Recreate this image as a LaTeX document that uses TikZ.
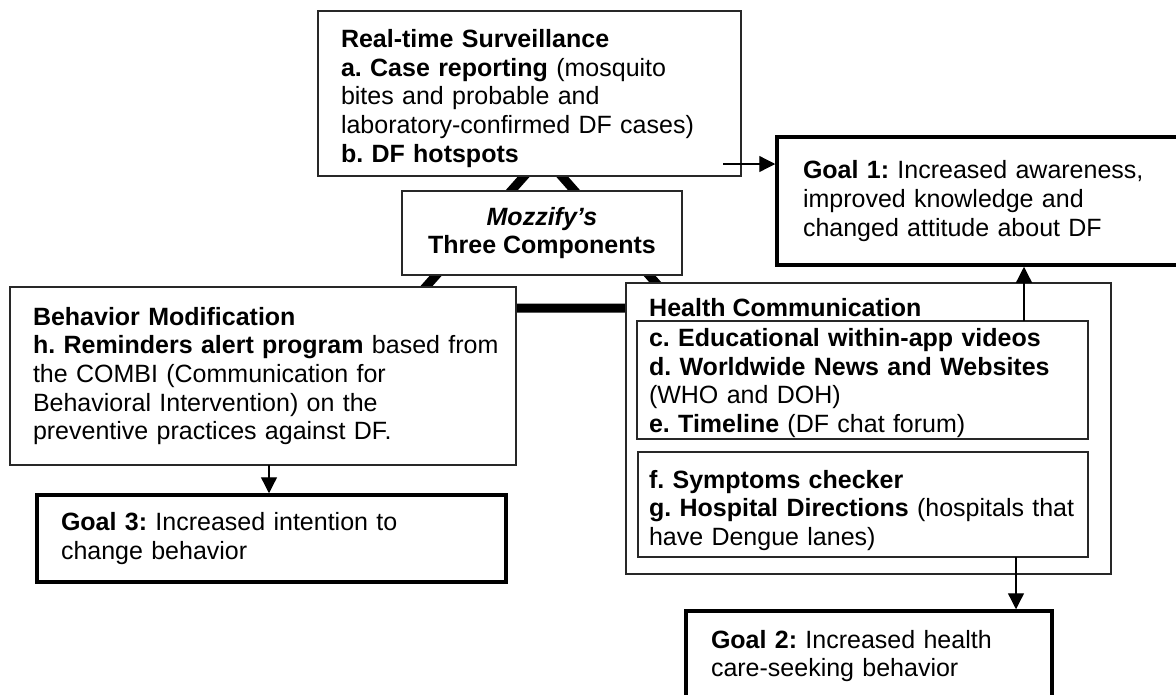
\documentclass[tikz,border=0pt]{standalone}
\usepackage{fontspec}
\setmainfont{Liberation Sans}
\usetikzlibrary{arrows.meta}
\definecolor{bordegris}{RGB}{40,40,40}
\frenchspacing

\begin{document}
\begin{tikzpicture}[x=1pt, y=-1pt,
    font=\fontsize{25}{28.7}\selectfont,
    caja/.style={draw=bordegris, line width=1.5pt, fill=white, align=left, inner ysep=0pt},
    meta/.style={caja, draw=black, line width=3.5pt},
    flecha/.style={line width=1.3pt, -{Triangle[length=16pt,width=16pt]}}]
            % Marco
            \clip (0,0) rectangle (1176,694);

            % Triangulo de fondo
            \coordinate (apex) at (543,155);
            \coordinate (izq) at (407,308);
            \coordinate (der) at (678,308);
            \draw[line width=9pt, line join=miter] (apex) -- (izq) -- (der) -- cycle;

            % Componentes
            \node[caja, text width=377pt, inner xsep=23pt, minimum height=165pt] (surv) at (529.5,93.5)
                {\rule{0pt}{28pt}\textbf{Real-time Surveillance}\\
                 \textbf{a. Case reporting} (mosquito\\
                 bites and probable and\\
                 laboratory-confirmed DF cases)\\
                 \textbf{b. DF hotspots}};
            \node[caja, align=center, minimum width=280pt, minimum height=84pt] (core) at (542,233)
                {\textbf{\textit{Mozzify’s}}\\ \textbf{Three Components}};
            \node[caja, text width=460pt, inner xsep=23pt, minimum height=178pt] (behav) at (263,376)
                {\textbf{Behavior Modification}\\
                 \mbox{\textbf{h. Reminders alert program} based from}\\
                 the COMBI (Communication for\\
                 Behavioral Intervention) on the\\
                 preventive practices against DF.};
            \node[caja, minimum width=485pt, minimum height=291pt] (health) at (868.5,428.5) {};
            \node[caja, text width=427pt, inner xsep=12pt, minimum height=118pt] (info) at (862.5,380)
                {\rule{0pt}{24pt}\textbf{c. Educational within-app videos}\\
                 \textbf{d. Worldwide News and Websites}\\
                 (WHO and DOH)\\
                 \textbf{e. Timeline} (DF chat forum)};
            \node[anchor=west, inner sep=0pt] (hctitle) at (649,308) {\textbf{Health Communication}};
            \node[caja, text width=428pt, inner xsep=11pt, minimum height=105pt] (care) at (863,504.5)
                {\rule{0pt}{30pt}\textbf{f. Symptoms checker}\\
                 \textbf{g. Hospital Directions} (hospitals that\\
                 have Dengue lanes)};

            % Metas
            \node[meta, text width=361pt, inner xsep=26pt, minimum height=128pt] (goal1) at (983.5,201)
                {\textbf{Goal 1:} Increased awareness,\\
                 improved knowledge and\\
                 changed attitude about DF};
            \node[meta, text width=316pt, inner xsep=25pt, minimum height=90pt] (goal2) at (869,656)
                {\textbf{Goal 2:} Increased health\\
                 care-seeking behavior};
            \node[meta, text width=421pt, inner xsep=24pt, minimum height=87pt] (goal3) at (271.5,538.5)
                {\textbf{Goal 3:} Increased intention to\\
                 change behavior};

            % Flechas
            \coordinate (s1) at (723,164);
            \draw[flecha] (s1) -- (s1 -| goal1.west);
            \coordinate (u1) at (1024,321);
            \draw[flecha] (u1) -- (u1 |- goal1.south);
            \coordinate (d2) at (1016,557);
            \draw[flecha] (d2) -- (d2 |- goal2.north);
            \coordinate (d3) at (269,465);
            \draw[flecha] (d3) -- (d3 |- goal3.north);
        \end{tikzpicture}
\end{document}
